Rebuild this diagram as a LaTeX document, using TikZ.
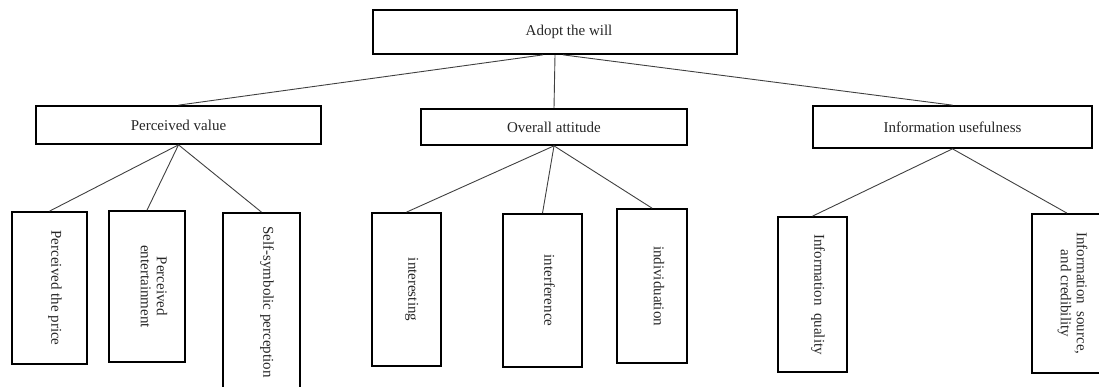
\documentclass[tikz,border=0pt]{standalone}
\usepackage{fontspec}
\setmainfont{Liberation Serif}
\usepackage{graphicx}
\usetikzlibrary{positioning}

\newcommand{\vlabel}[1]{\hspace{10pt}\rotatebox{-90}{\begin{tabular}{@{}c@{}}#1\end{tabular}}}

\begin{document}
\begin{tikzpicture}[x=1pt, y=-1pt,
        box/.style={draw=black, line width=1.7pt, inner sep=0pt, align=center,
            font=\fontsize{15}{16}\selectfont, text=black!85},
        link/.style={draw=black!75, line width=0.9pt}]
        \clip (0,0) rectangle (1099,387);

        \node (adopt) [box, minimum width=364pt, minimum height=44pt] at (555,32) {\hspace{28pt}\raisebox{3pt}{Adopt the will}};

        \node (value) [box, minimum width=285pt, minimum height=38pt] at (178.5,125) {Perceived value};
        \node (attitude) [box, minimum width=266pt, minimum height=36pt] at (554,127) {Overall attitude};
        \node (useful) [box, minimum width=279pt, minimum height=42pt] at (952.5,127) {Information usefulness};

        \node (price) [box, minimum width=75pt, minimum height=152pt] at (49.5,288) {\vlabel{Perceived the price}};
        \node (entertain) [box, minimum width=76pt, minimum height=151pt] at (147,286.5) {\vlabel{Perceived\\entertainment}};
        \node (symbolic) [box, minimum width=77pt, minimum height=178pt] at (261.5,302) {\vlabel{Self-symbolic perception}};

        \node (interesting) [box, minimum width=69pt, minimum height=153pt] at (406.5,289.5) {\vlabel{interesting}};
        \node (interfere) [box, minimum width=79pt, minimum height=153pt] at (542.5,290.5) {\vlabel{interference}};
        \node (individ) [box, minimum width=70pt, minimum height=154pt] at (652,286) {\vlabel{individuation}};

        \node (quality) [box, minimum width=69pt, minimum height=155pt] at (812.5,294.5) {\vlabel{Information\ \ quality}};
        \node (source) [box, minimum width=70pt, minimum height=159pt] at (1067,293.5) {\vlabel{Information\ \ source,\\and credibility}};

        \path[link]
        ([xshift=-12pt]adopt.south) edge (value.north)
        (adopt.south) edge (attitude.north)
        ([xshift=8pt]adopt.south) edge (useful.north)
        (value.south) edge (price.north)
        (value.south) edge (entertain.north)
        (value.south) edge (symbolic.north)
        (attitude.south) edge (interesting.north)
        (attitude.south) edge (interfere.north)
        (attitude.south) edge (individ.north)
        (useful.south) edge (quality.north)
        (useful.south) edge (source.north);

\end{tikzpicture}
\end{document}
